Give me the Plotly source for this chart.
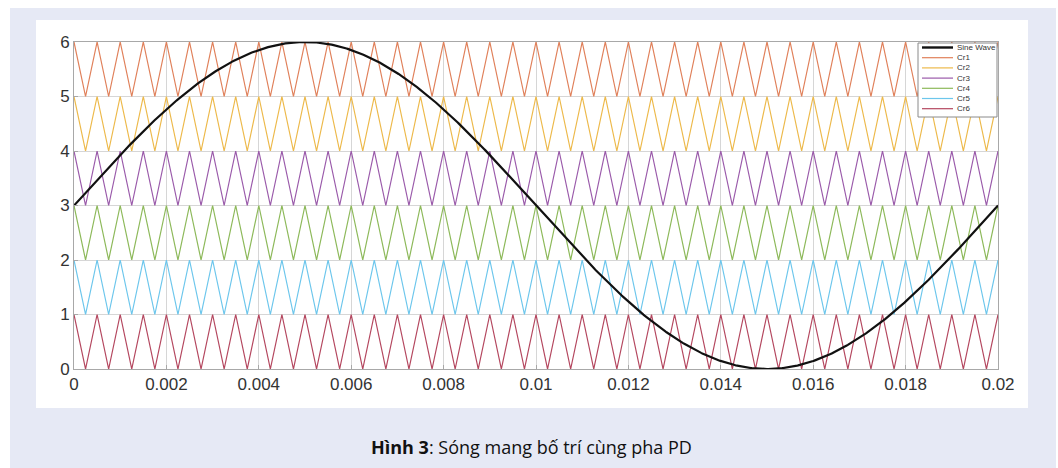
import numpy as np
import plotly.graph_objects as go

# ---- data ----
carrier_names = ["Cr1", "Cr2", "Cr3", "Cr4", "Cr5", "Cr6"]
carrier_low = [5, 4, 3, 2, 1, 0]
carrier_high = [6, 5, 4, 3, 2, 1]
carrier_freq_hz = 2000          # 40 triangles over 0..0.02 s
sine_freq_hz = 50
sine_offset = 3
sine_amplitude = 3
t_end = 0.02
x_ticks = [0, 0.002, 0.004, 0.006, 0.008, 0.01, 0.012, 0.014, 0.016, 0.018, 0.02]
x_tick_labels = ["0", "0.002", "0.004", "0.006", "0.008", "0.01", "0.012", "0.014", "0.016", "0.018", "0.02"]
y_ticks = [0, 1, 2, 3, 4, 5, 6]

# ---- styles ----
colors = ["#E0805A", "#EDB94A", "#9A5AAA", "#8DB95A", "#6CC6EC", "#B4475F"]
sine_color = "#111111"

fig = go.Figure()

half = 1.0 / carrier_freq_hz / 2
n_half = int(round(t_end / half))
t_tri = np.arange(n_half + 1) * half
for name, lo, hi, c in zip(carrier_names, carrier_low, carrier_high, colors):
    y = np.where(np.arange(n_half + 1) % 2 == 0, hi, lo)
    fig.add_trace(go.Scatter(x=t_tri, y=y, mode="lines", name=name,
                             line=dict(color=c, width=1.2), showlegend=False))

t_sine = np.linspace(0, t_end, 801)
fig.add_trace(go.Scatter(
    x=t_sine, y=sine_offset + sine_amplitude * np.sin(2 * np.pi * sine_freq_hz * t_sine),
    mode="lines", name="Sine Wave", line=dict(color=sine_color, width=2.2), showlegend=False))

W, H = 1058, 468
L, R, T, B = 74, 60, 42, 99
pw, ph = W - L - R, H - T - B

def px(x): return (x - L) / pw
def py(y): return 1 - (y - T) / ph

shapes = [
    dict(type="rect", xref="paper", yref="paper", layer="below",
         x0=px(10), x1=px(1056), y0=py(468), y1=py(8),
         fillcolor="#E6E9F5", line=dict(width=0)),
    dict(type="rect", xref="paper", yref="paper", layer="below",
         x0=px(36), x1=px(1028), y0=py(408), y1=py(20),
         fillcolor="#FFFFFF", line=dict(width=0)),
]

# custom compact legend (MATLAB style)
leg_x0, leg_x1, leg_y0, leg_y1 = 918, 997, 43, 117
shapes.append(dict(type="rect", xref="paper", yref="paper", layer="above",
                   x0=px(leg_x0), x1=px(leg_x1), y0=py(leg_y1), y1=py(leg_y0),
                   fillcolor="#FFFFFF", line=dict(color="#8A8A8A", width=1)))
leg_names = ["Sine Wave"] + carrier_names
leg_colors = [sine_color] + colors
leg_widths = [2.4] + [1.2] * 6
annotations = []
for i, (n, c, w) in enumerate(zip(leg_names, leg_colors, leg_widths)):
    yy = 47.5 + i * 10.2
    shapes.append(dict(type="line", xref="paper", yref="paper", layer="above",
                       x0=px(922), x1=px(953), y0=py(yy), y1=py(yy),
                       line=dict(color=c, width=w)))
    annotations.append(dict(xref="paper", yref="paper", x=px(955), y=py(yy),
                            xanchor="left", yanchor="middle", showarrow=False,
                            text=n, font=dict(family="Liberation Sans, Arial", size=8, color="#333333")))

annotations.append(dict(xref="paper", yref="paper", x=px(531), y=py(447),
                        xanchor="center", yanchor="middle", showarrow=False,
                        text="<b>Hình 3</b>: Sóng mang bố trí cùng pha PD",
                        font=dict(family="Open Sans, Noto Sans", size=18, color="#111111")))

fig.update_layout(
    width=W, height=H,
    margin=dict(l=L, r=R, t=T, b=B),
    paper_bgcolor="#FFFFFF", plot_bgcolor="rgba(0,0,0,0)",
    shapes=shapes, annotations=annotations,
    showlegend=False,
    xaxis=dict(range=[0, t_end], tickvals=x_ticks, ticktext=x_tick_labels,
               showgrid=True, gridcolor="#D6D6D6", gridwidth=1, zeroline=False,
               showline=True, linecolor="#A8A8A8", linewidth=1, mirror=True,
               ticks="inside", ticklen=4, tickcolor="#A8A8A8",
               tickfont=dict(family="Liberation Sans, Arial", size=17, color="#333333")),
    yaxis=dict(range=[0, 6], tickvals=y_ticks,
               showgrid=True, gridcolor="#D6D6D6", gridwidth=1, zeroline=False,
               showline=True, linecolor="#A8A8A8", linewidth=1, mirror=True,
               ticks="inside", ticklen=4, tickcolor="#A8A8A8",
               tickfont=dict(family="Liberation Sans, Arial", size=17, color="#333333")),
)

fig.write_html("out.html")
